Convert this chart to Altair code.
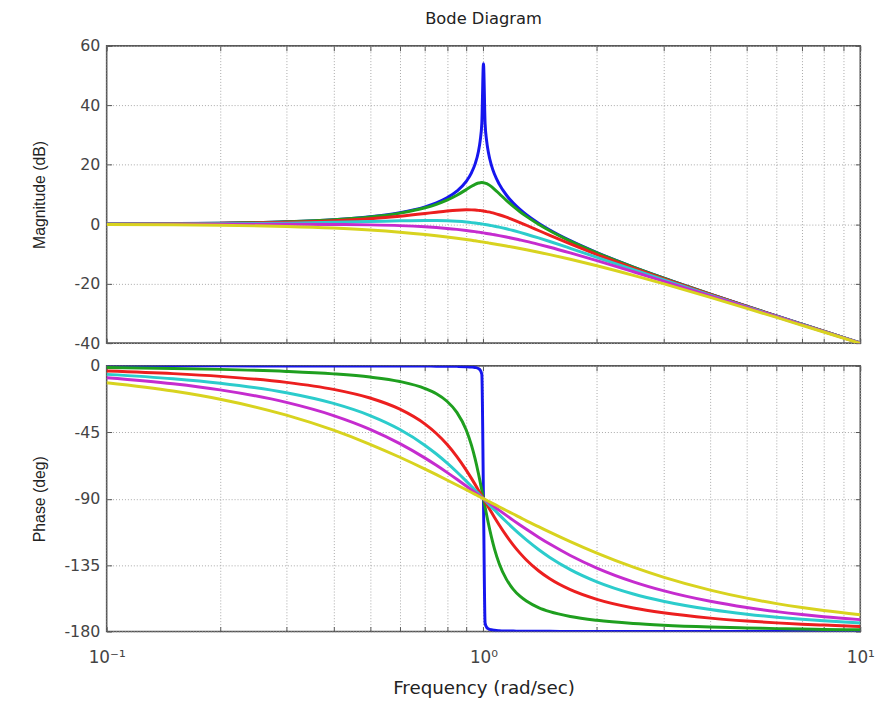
import altair as alt
import pandas as pd

# Frequency samples (rad/sec)
FREQ = [0.1, 0.15, 0.2, 0.3, 0.4, 0.5, 0.6, 0.7, 0.75, 0.8, 0.85, 0.9, 0.93, 0.95, 0.97, 0.98, 0.99,
        1.0, 1.01, 1.02, 1.03, 1.05, 1.07, 1.1, 1.15, 1.2, 1.25, 1.3, 1.4, 1.5, 1.7, 2, 2.5, 3, 4, 5,
        6, 7, 8, 10]

SERIES = ["0.001", "0.1", "0.3", "0.5", "0.7", "1.0"]
COLORS = ["#1616ee", "#1f9f1f", "#ec1f1f", "#2ccccc", "#c52ccf", "#d8d31f"]

# Magnitude (dB)
MAG_BLUE = [0.09, 0.20, 0.35, 0.82, 1.51, 2.50, 3.88, 5.85, 7.18, 8.87, 11.13, 14.42, 17.39, 20.22, 24.57,
            28.05, 34.02, 54.0, 33.94, 27.87, 24.31, 19.79, 16.78, 13.56, 9.83, 7.13, 5.00, 3.22, 0.35,
            -1.94, -5.53, -9.54, -14.40, -18.06, -23.52, -27.60, -30.88, -33.62, -35.99, -39.91]
MAG_GREEN = [0.09, 0.19, 0.35, 0.80, 1.48, 2.42, 3.73, 5.53, 6.70, 8.09, 9.75, 11.64, 12.77, 13.41, 13.86,
             13.98, 14.02, 13.98, 13.85, 13.64, 13.36, 12.63, 11.75, 10.34, 8.04, 6.00, 4.21, 2.65, 0.00,
             -2.18, -5.67, -9.62, -14.44, -18.09, -23.53, -27.61, -30.89, -33.63, -35.99, -39.91]
MAG_RED = [0.07, 0.16, 0.29, 0.65, 1.17, 1.85, 2.68, 3.60, 4.05, 4.44, 4.72, 4.85, 4.82, 4.76, 4.66,
           4.59, 4.52, 4.44, 4.35, 4.25, 4.14, 3.90, 3.63, 3.19, 2.36, 1.47, 0.56, -0.35, -2.11,
           -3.75, -6.64, -10.19, -14.74, -18.28, -23.63, -27.67, -30.93, -33.66, -36.01, -39.93]
MAG_CYAN = [0.04, 0.10, 0.17, 0.37, 0.63, 0.90, 1.14, 1.25, 1.23, 1.14, 0.97, 0.73, 0.54, 0.40, 0.25,
            0.17, 0.09, 0.00, -0.09, -0.18, -0.27, -0.47, -0.67, -0.98, -1.54, -2.13, -2.74, -3.36, -4.60,
            -5.81, -8.10, -11.14, -15.29, -18.63, -23.82, -27.79, -31.01, -33.72, -36.06, -39.96]
MAG_MAGENTA = [0.00, 0.00, 0.00, -0.02, -0.08, -0.22, -0.47, -0.87, -1.12, -1.41, -1.74, -2.11, -2.34, -2.50, -2.67,
               -2.75, -2.84, -2.92, -3.01, -3.10, -3.19, -3.37, -3.55, -3.83, -4.31, -4.79, -5.29, -5.78, -6.78,
               -7.76, -9.66, -12.26, -16.00, -19.12, -24.09, -27.96, -31.12, -33.80, -36.12, -40.00]
MAG_YELLOW = [-0.09, -0.19, -0.34, -0.75, -1.29, -1.94, -2.67, -3.46, -3.88, -4.30, -4.72, -5.15, -5.41, -5.59, -5.76,
              -5.85, -5.93, -6.02, -6.11, -6.20, -6.28, -6.46, -6.63, -6.89, -7.32, -7.75, -8.17, -8.60, -9.43,
              -10.24, -11.80, -13.98, -17.21, -20.00, -24.61, -28.30, -31.36, -33.98, -36.26, -40.09]

# Phase (deg)
PH_BLUE = [-0.01, -0.02, -0.02, -0.04, -0.05, -0.08, -0.11, -0.16, -0.20, -0.25, -0.35, -0.54, -0.79, -1.12, -1.88,
           -2.83, -5.68, -90.0, -174.32, -177.17, -178.06, -178.82, -179.15, -179.40, -179.59, -179.69, -179.75,
           -179.78, -179.83, -179.86, -179.90, -179.92, -179.95, -179.96, -179.97, -179.98, -179.98, -179.98,
           -179.99, -179.99]
PH_GREEN = [-1.16, -1.76, -2.39, -3.77, -5.44, -7.59, -10.62, -15.35, -18.92, -23.96, -31.49, -43.45, -54.01, -62.83,
            -73.06, -78.58, -84.26, -90.0, -95.68, -101.20, -106.47, -116.01, -124.10, -133.67, -144.50, -151.39,
            -156.04, -159.35, -163.74, -166.50, -169.80, -172.41, -174.56, -175.71, -176.95, -177.61, -178.04,
            -178.33, -178.55, -178.84]
PH_RED = [-3.47, -5.26, -7.13, -11.19, -15.95, -21.80, -29.36, -39.47, -45.81, -53.13, -61.45, -70.62, -76.39, -80.29,
          -84.20, -86.15, -88.08, -90.0, -91.90, -93.78, -95.63, -99.24, -102.72, -107.65, -115.05, -121.43,
          -126.87, -131.50, -138.81, -144.25, -151.64, -158.20, -164.05, -167.32, -170.91, -172.87, -174.13,
          -175.00, -175.64, -176.53]
PH_CYAN = [-5.77, -8.72, -11.77, -18.25, -25.46, -33.69, -43.15, -53.92, -59.74, -65.77, -71.92, -78.08, -81.73, -84.14,
           -86.51, -87.69, -88.85, -90.0, -91.14, -92.27, -93.38, -95.58, -97.71, -100.81, -105.66, -110.14,
           -114.23, -117.96, -124.44, -129.81, -138.03, -146.31, -154.54, -159.44, -165.07, -168.23, -170.27,
           -171.70, -172.76, -174.23]
PH_MAGENTA = [-8.05, -12.13, -16.26, -24.78, -33.69, -43.03, -52.70, -62.51, -67.38, -72.18, -76.87, -81.43, -84.08,
              -85.81, -87.51, -88.35, -89.18, -90.0, -90.82, -91.62, -92.42, -93.99, -95.52, -97.77, -101.33,
              -104.68, -107.82, -110.76, -116.09, -120.76, -128.45, -136.97, -146.31, -152.30, -159.53, -163.74,
              -166.50, -168.46, -169.92, -171.95]
PH_YELLOW = [-11.42, -17.06, -22.62, -33.40, -43.60, -53.13, -61.93, -69.98, -73.74, -77.32, -80.73, -83.97, -85.84,
             -87.06, -88.26, -88.84, -89.43, -90.0, -90.57, -91.13, -91.70, -92.79, -93.87, -95.45, -97.97,
             -100.39, -102.68, -105.00, -108.92, -112.62, -119.06, -126.87, -136.40, -143.13, -151.93, -157.38,
             -161.08, -163.74, -165.75, -168.58]

MAGS = [MAG_BLUE, MAG_GREEN, MAG_RED, MAG_CYAN, MAG_MAGENTA, MAG_YELLOW]
PHASES = [PH_BLUE, PH_GREEN, PH_RED, PH_CYAN, PH_MAGENTA, PH_YELLOW]
for arr in MAGS + PHASES:
    assert len(arr) == len(FREQ), len(arr)

GRID_X = [0.1, 0.2, 0.3, 0.4, 0.5, 0.6, 0.7, 0.8, 0.9, 1, 2, 3, 4, 5, 6, 7, 8, 9, 10]
MAG_TICKS = [60, 40, 20, 0, -20, -40]
PHASE_TICKS = [0, -45, -90, -135, -180]

rows = []
for name, mags, phs in zip(SERIES, MAGS, PHASES):
    for f, m, p in zip(FREQ, mags, phs):
        rows.append({"freq": f, "mag": m, "phase": p, "zeta": name})
df = pd.DataFrame(rows)

xscale = alt.Scale(type="log", domain=[0.1, 10], nice=False)
mag_scale = alt.Scale(domain=[-40, 60], nice=False)
ph_scale = alt.Scale(domain=[-180, 0], nice=False)
color = alt.Color("zeta:N", scale=alt.Scale(domain=SERIES, range=COLORS), legend=None)

TICK = dict(ticks=True, tickSize=5, tickColor="#555555", tickWidth=1, offset=-5, domain=False)

x_top = alt.X("freq:Q", scale=xscale,
              axis=alt.Axis(values=GRID_X, labels=False, title=None, grid=True, **TICK))
x_bot = alt.X("freq:Q", scale=xscale,
              axis=alt.Axis(values=GRID_X, grid=True,
                            labelExpr="datum.value == 0.1 ? '10⁻¹' : datum.value == 1 ? '10⁰' : datum.value == 10 ? '10¹' : ''",
                            labelOverlap=False, labelFlush=False, labelPadding=18, labelFontSize=17,
                            labelFont="DejaVu Sans", labelColor="#444444",
                            title="Frequency (rad/sec)", titlePadding=14, titleFontSize=18.5,
                            titleFont="DejaVu Sans", **TICK))

YAX = dict(grid=True, labelPadding=7, labelExpr="'' + datum.value", titleX=-73,
           titleBaseline="middle", labelOverlap=False, labelFont="DejaVu Sans",
           labelFontSize=16, titleFont="Liberation Sans", titleFontSize=16, **TICK)

x_mirror = alt.X("freq:Q", scale=xscale,
                 axis=alt.Axis(orient="top", values=GRID_X, labels=False, title=None, grid=False, **TICK))

LINE = dict(strokeWidth=3, clip=True, interpolate="monotone")

top_lines = alt.Chart(df).mark_line(**LINE).encode(
    x=x_top,
    y=alt.Y("mag:Q", scale=mag_scale, axis=alt.Axis(values=MAG_TICKS, title="Magnitude (dB)", **YAX)),
    color=color,
)
top_ticks = alt.Chart(df).mark_line(opacity=0).encode(
    x=x_mirror,
    y=alt.Y("mag:Q", scale=mag_scale,
            axis=alt.Axis(orient="right", values=MAG_TICKS, labels=False, title=None, grid=False, **TICK)),
    detail="zeta:N",
)
top = alt.layer(top_lines, top_ticks).resolve_axis(x="independent", y="independent").properties(
    width=763, height=301,
    title=alt.TitleParams("Bode Diagram", frame="group", anchor="middle", offset=11,
                          font="DejaVu Sans", fontSize=16.5),
)

bot_lines = alt.Chart(df).mark_line(**LINE).encode(
    x=x_bot,
    y=alt.Y("phase:Q", scale=ph_scale, axis=alt.Axis(values=PHASE_TICKS, title="Phase (deg)", **YAX)),
    color=color,
)
bot_ticks = alt.Chart(df).mark_line(opacity=0).encode(
    x=x_mirror,
    y=alt.Y("phase:Q", scale=ph_scale,
            axis=alt.Axis(orient="right", values=PHASE_TICKS, labels=False, title=None, grid=False, **TICK)),
    detail="zeta:N",
)
bottom = alt.layer(bot_lines, bot_ticks).resolve_axis(x="independent", y="independent").properties(
    width=763, height=269,
)

chart = alt.vconcat(top, bottom, spacing=5).configure(
    font="Liberation Sans",
    padding={"left": 31, "top": 5, "right": 5, "bottom": 5},
).configure_view(
    stroke="#555555", strokeWidth=1.6
).configure_axis(
    gridColor="#a8a8a8", gridDash=[1, 2], gridWidth=1,
    labelColor="#444444",
    titleFontWeight="normal", titleColor="#222222",
).configure_title(
    fontWeight="normal", color="#222222"
)

chart.save("out.html", embed_options={"renderer": "svg", "actions": False})
